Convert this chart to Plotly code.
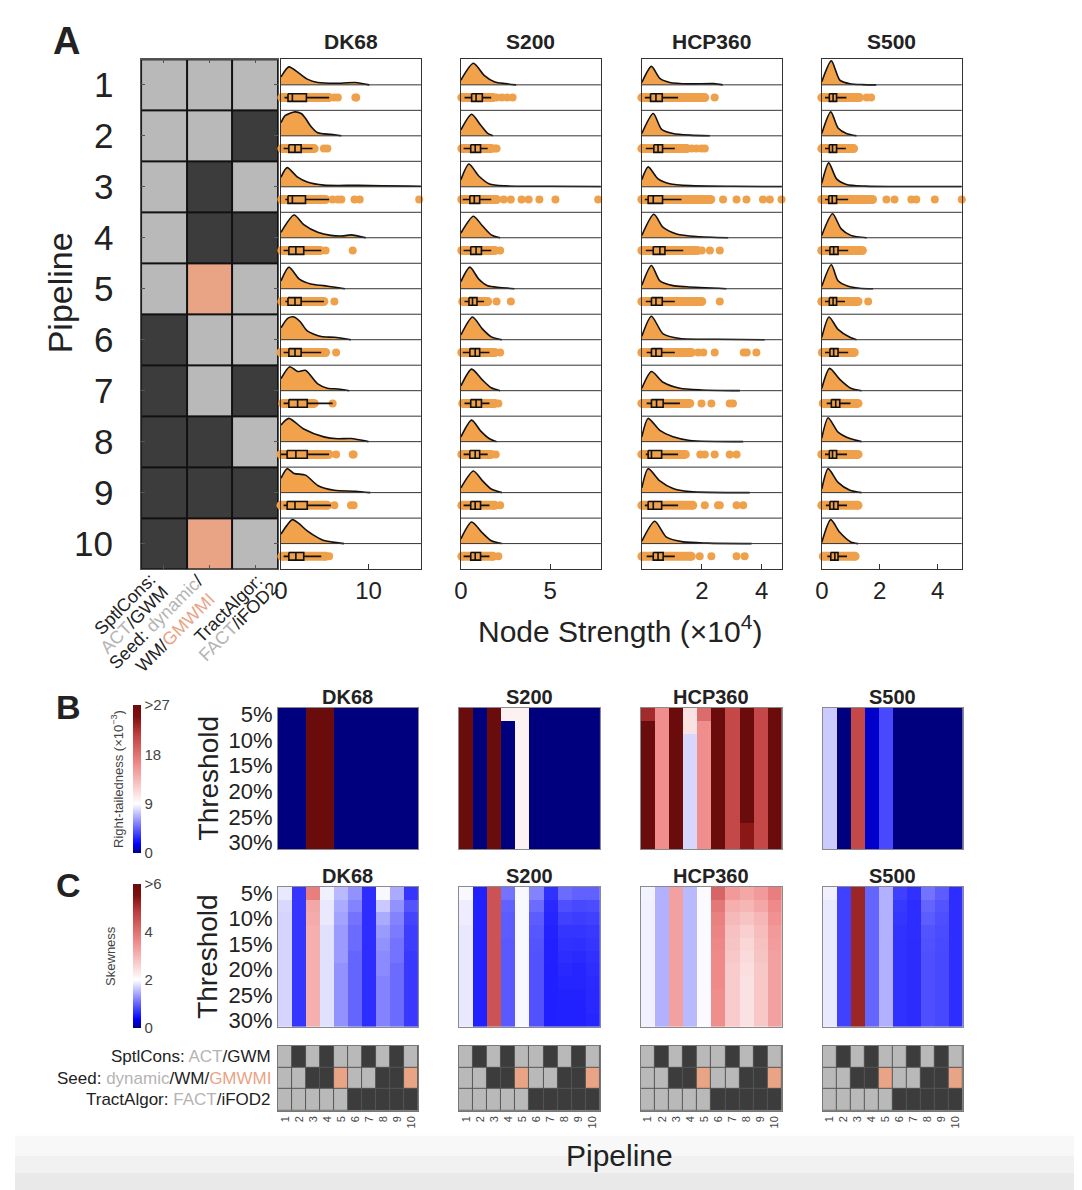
import plotly.graph_objects as go
import numpy as np

W, H = 1082, 1190
FONT = "Liberation Sans, Arial, sans-serif"
ORANGE = "#F2A24A"
DOT = "#EFA04A"
LIGHT = "#B9B9B9"
DARK = "#3C3C3C"
SALMON = "#E9A385"

ATLASES = ["DK68", "S200", "HCP360", "S500"]
PIPELINES = [1, 2, 3, 4, 5, 6, 7, 8, 9, 10]
THRESHOLDS = ["5%", "7.5%", "10%", "12.5%", "15%", "17.5%", "20%", "22.5%", "25%", "27.5%", "30%"]
THRESH_TICKS = ["5%", "10%", "15%", "20%", "25%", "30%"]

# pipeline configuration (0 = grey option, 1 = dark option, 2 = orange option)
SPTLCONS = [0, 0, 0, 0, 0, 1, 1, 1, 1, 1]
SEED = [0, 0, 1, 1, 2, 0, 0, 1, 1, 2]
TRACTALGOR = [0, 1, 0, 1, 0, 0, 1, 0, 1, 0]

# ---------------- Panel A : node strength (x10^4) ----------------
XMAX_A = [16, 7.85, 4.67, 4.83]
XTICKS_A = [[0, 10], [0, 5], [2, 4], [0, 2, 4]]

# density curves: [x, relative height]
DK68_DENS = [
    [[0, 0.33], [0.9, 0.75], [2.0, 0.5], [3.0, 0.24], [4.2, 0.1], [6.9, 0.07], [8.5, 0.1], [10.1, 0]],
    [[0, 0.55], [0.5, 0.85], [1.6, 1.0], [2.3, 0.93], [2.8, 0.73], [3.4, 0.4], [4.2, 0.13], [5.7, 0.06], [6.9, 0]],
    [[0, 0.4], [0.7, 0.8], [1.9, 0.4], [3.0, 0.2], [4.9, 0.07], [8.8, 0.06], [14.5, 0.03], [16, 0.02]],
    [[0, 0.23], [1.5, 0.95], [2.6, 0.55], [4.2, 0.23], [5.7, 0.1], [7.2, 0.08], [8.0, 0.12], [9.7, 0]],
    [[0, 0.33], [0.9, 0.9], [2.1, 0.4], [3.4, 0.2], [4.9, 0.13], [6.2, 0.06], [7.3, 0]],
    [[0, 0.5], [0.8, 0.9], [1.5, 0.95], [2.2, 0.75], [3.0, 0.37], [4.6, 0.13], [6.1, 0.1], [8.0, 0]],
    [[0, 0.5], [1.0, 1.0], [1.9, 0.8], [2.8, 0.85], [4.2, 0.28], [5.3, 0.1], [6.5, 0.07], [7.8, 0]],
    [[0, 0.7], [0.9, 0.97], [2.6, 0.53], [4.9, 0.2], [6.5, 0.12], [8.0, 0.13], [10.0, 0]],
    [[0, 0.6], [0.7, 1.0], [1.5, 0.8], [2.8, 0.73], [4.2, 0.3], [6.1, 0.1], [8.5, 0.06], [10.2, 0]],
    [[0, 0.4], [1.3, 1.0], [2.0, 0.85], [3.0, 0.53], [4.2, 0.25], [4.9, 0.13], [7.2, 0]],
]
# box: [lower whisker, q1, median, q3, upper whisker]
DK68_BOX = [
    [0.4, 0.8, 1.3, 2.9, 5.5], [0.3, 0.9, 1.6, 2.3, 3.6], [0.5, 0.8, 1.3, 2.8, 5.5],
    [0.3, 0.9, 1.7, 2.6, 4.6], [0.5, 0.8, 1.6, 2.3, 4.9], [0.3, 0.9, 1.6, 2.3, 4.6],
    [0.3, 0.9, 1.9, 3.0, 5.9], [0.0, 0.7, 1.7, 3.0, 5.5], [0.3, 0.7, 1.6, 3.0, 5.7],
    [0.3, 0.9, 1.7, 2.6, 4.6],
]
DK68_CORE = [[0.1, 5.5], [0.1, 3.8], [0.1, 5.1], [0.1, 4.5], [0.1, 4.9],
             [0.0, 5.1], [0.2, 3.8], [0.0, 5.5], [0.0, 5.3], [0.1, 5.1]]
DK68_OUT = [[6.1, 6.5, 8.5, 8.6], [4.9, 5.3], [5.9, 6.5, 6.9, 8.4, 9.0, 15.8], [5.1, 8.2], [6.1],
            [6.3], [5.9], [6.3, 8.2, 8.3], [6.1, 8.0, 8.3], [5.5]]

S200_DENS = [
    [[0, 0.2], [0.7, 0.9], [1.3, 0.4], [1.9, 0.12], [2.5, 0.05], [3.1, 0]],
    [[0, 0.25], [0.6, 0.9], [1.1, 0.45], [1.5, 0.1], [1.8, 0]],
    [[0, 0.3], [0.45, 0.95], [1.0, 0.45], [1.6, 0.12], [2.5, 0.04], [5.0, 0.02], [7.85, 0.01]],
    [[0, 0.2], [0.7, 0.9], [1.2, 0.5], [1.7, 0.12], [2.2, 0]],
    [[0, 0.3], [0.5, 0.9], [1.0, 0.4], [1.5, 0.12], [2.2, 0.05], [3.0, 0]],
    [[0, 0.2], [0.65, 0.95], [1.2, 0.45], [1.7, 0.12], [2.3, 0]],
    [[0, 0.2], [0.6, 0.9], [1.2, 0.45], [1.7, 0.12], [2.2, 0]],
    [[0, 0.2], [0.6, 0.9], [1.1, 0.45], [1.6, 0.12], [2.0, 0]],
    [[0, 0.2], [0.7, 0.9], [1.2, 0.5], [1.7, 0.15], [2.3, 0]],
    [[0, 0.2], [0.6, 0.9], [1.2, 0.45], [1.7, 0.12], [2.3, 0]],
]
S200_BOX = [
    [0.2, 0.6, 0.85, 1.2, 1.7], [0.15, 0.55, 0.8, 1.1, 1.5], [0.1, 0.5, 0.75, 1.05, 1.7],
    [0.15, 0.55, 0.85, 1.15, 1.7], [0.2, 0.45, 0.65, 0.9, 1.3], [0.1, 0.5, 0.8, 1.05, 1.6],
    [0.2, 0.55, 0.85, 1.15, 1.6], [0.15, 0.5, 0.8, 1.05, 1.5], [0.15, 0.55, 0.8, 1.1, 1.6],
    [0.15, 0.55, 0.8, 1.1, 1.6],
]
S200_CORE = [[0.05, 1.8], [0.05, 1.7], [0.05, 2.0], [0.05, 1.9], [0.1, 1.5],
             [0.05, 1.9], [0.1, 1.9], [0.05, 1.7], [0.05, 1.9], [0.05, 1.8]]
S200_OUT = [[2.0, 2.3, 2.6, 2.9], [1.9, 2.0], [2.4, 2.8, 3.4, 3.8, 4.4, 5.3, 7.7], [2.2], [2.0, 2.8],
            [2.2], [2.1], [1.95], [2.2], [2.1]]

HCP360_DENS = [
    [[0, 0.1], [0.32, 0.77], [0.6, 0.27], [0.93, 0.1], [1.6, 0.04], [2.4, 0.05], [2.7, 0]],
    [[0, 0.1], [0.38, 0.93], [0.66, 0.27], [1.04, 0.1], [1.6, 0.03], [2.27, 0]],
    [[0, 0.3], [0.21, 0.83], [0.54, 0.33], [0.93, 0.13], [1.6, 0.05], [3.0, 0.02], [4.67, 0.01]],
    [[0, 0.1], [0.4, 0.98], [0.71, 0.43], [1.16, 0.16], [1.82, 0.05], [2.88, 0]],
    [[0, 0.15], [0.32, 0.97], [0.6, 0.33], [1.04, 0.13], [1.5, 0.08], [2.82, 0]],
    [[0, 0.15], [0.32, 0.98], [0.71, 0.24], [1.27, 0.05], [2.5, 0.02], [4.1, 0]],
    [[0, 0.1], [0.32, 0.8], [0.71, 0.35], [1.27, 0.1], [2.0, 0.03], [3.27, 0]],
    [[0, 0.2], [0.21, 0.97], [0.6, 0.47], [1.04, 0.2], [1.6, 0.05], [3.38, 0]],
    [[0, 0.2], [0.21, 1.0], [0.6, 0.49], [1.04, 0.17], [1.6, 0.04], [3.6, 0]],
    [[0, 0.1], [0.43, 0.93], [0.82, 0.27], [1.38, 0.07], [2.2, 0.02], [3.66, 0]],
]
HCP360_BOX = [
    [0.1, 0.29, 0.47, 0.68, 1.21], [0.13, 0.4, 0.54, 0.69, 1.1], [0.1, 0.21, 0.38, 0.69, 1.32],
    [0.13, 0.38, 0.6, 0.77, 1.38], [0.13, 0.32, 0.47, 0.68, 1.1], [0.16, 0.32, 0.47, 0.66, 1.1],
    [0.16, 0.32, 0.49, 0.71, 1.27], [0.13, 0.21, 0.32, 0.66, 1.21], [0.1, 0.21, 0.38, 0.66, 1.21],
    [0.16, 0.38, 0.54, 0.71, 1.1],
]
HCP360_CORE = [[0, 2.1], [0, 1.5], [0, 2.3], [0, 1.85], [0, 2.0],
               [0, 1.65], [0, 1.6], [0, 1.45], [0, 1.7], [0, 1.65]]
HCP360_OUT = [[2.43], [1.66, 1.82, 1.99, 2.1], [2.71, 3.16, 3.49, 4.04, 4.27, 4.66], [2.0, 2.27, 2.6], [2.6],
              [1.88, 2.05, 2.43, 3.4, 3.5, 3.82], [1.99, 2.32, 2.93, 3.04], [1.95, 2.1, 2.43, 2.93, 3.16],
              [2.1, 2.54, 2.6, 3.16, 3.38], [1.93, 2.32, 3.16, 3.43]]

S500_DENS = [
    [[0, 0.13], [0.33, 1.0], [0.62, 0.2], [0.97, 0.05], [1.4, 0.01], [1.88, 0]],
    [[0, 0.1], [0.31, 1.0], [0.56, 0.33], [0.85, 0.1], [1.2, 0]],
    [[0, 0.15], [0.24, 1.0], [0.51, 0.33], [0.85, 0.1], [1.5, 0.03], [3.0, 0.01], [4.83, 0.01]],
    [[0, 0.1], [0.37, 1.0], [0.67, 0.37], [1.0, 0.1], [1.55, 0]],
    [[0, 0.1], [0.33, 1.0], [0.56, 0.33], [0.91, 0.1], [1.3, 0.02], [1.77, 0]],
    [[0, 0.1], [0.25, 0.95], [0.56, 0.43], [0.97, 0.1], [1.2, 0]],
    [[0, 0.1], [0.27, 0.93], [0.62, 0.47], [1.0, 0.1], [1.37, 0]],
    [[0, 0.15], [0.22, 1.0], [0.56, 0.4], [0.97, 0.13], [1.37, 0]],
    [[0, 0.15], [0.22, 1.0], [0.56, 0.43], [0.97, 0.1], [1.37, 0]],
    [[0, 0.05], [0.31, 1.0], [0.62, 0.47], [1.0, 0.07], [1.25, 0]],
]
S500_BOX = [
    [0.11, 0.26, 0.39, 0.51, 0.85], [0.11, 0.26, 0.37, 0.51, 0.83], [0.11, 0.24, 0.36, 0.51, 0.91],
    [0.11, 0.28, 0.41, 0.56, 0.91], [0.11, 0.26, 0.39, 0.51, 0.8], [0.11, 0.28, 0.41, 0.56, 0.91],
    [0.17, 0.33, 0.48, 0.62, 0.99], [0.11, 0.26, 0.37, 0.51, 0.87], [0.14, 0.28, 0.41, 0.56, 0.87],
    [0.19, 0.31, 0.45, 0.56, 0.87],
]
S500_CORE = [[0, 1.3], [0, 1.1], [0, 1.75], [0, 1.4], [0, 1.25],
             [0.02, 1.12], [0.05, 1.25], [0, 1.25], [0, 1.25], [0.05, 1.15]]
S500_OUT = [[1.55, 1.7], [], [2.23, 2.51, 3.09, 3.26, 3.9, 4.83], [], [1.6], [], [], [], [], []]

# ---------------- Panel B : right-tailedness (x10^-3), one list per pipeline over thresholds ----------------
B_DK68 = [
    [0, 0, 0, 0, 0, 0, 0, 0, 0, 0, 0],
    [0, 0, 0, 0, 0, 0, 0, 0, 0, 0, 0],
    [30, 30, 30, 30, 30, 30, 30, 30, 30, 30, 30],
    [30, 30, 30, 30, 30, 30, 30, 30, 30, 30, 30],
    [0, 0, 0, 0, 0, 0, 0, 0, 0, 0, 0],
    [0, 0, 0, 0, 0, 0, 0, 0, 0, 0, 0],
    [0, 0, 0, 0, 0, 0, 0, 0, 0, 0, 0],
    [0, 0, 0, 0, 0, 0, 0, 0, 0, 0, 0],
    [0, 0, 0, 0, 0, 0, 0, 0, 0, 0, 0],
    [0, 0, 0, 0, 0, 0, 0, 0, 0, 0, 0],
]
B_S200 = [
    [30, 30, 30, 30, 30, 30, 30, 30, 30, 30, 30],
    [0, 0, 0, 0, 0, 0, 0, 0, 0, 0, 0],
    [30, 30, 30, 30, 30, 30, 30, 30, 30, 30, 30],
    [9.8, 0, 0, 0, 0, 0, 0, 0, 0, 0, 0],
    [9.8, 9.8, 9.8, 9.8, 9.8, 9.8, 9.8, 9.8, 9.8, 9.8, 9.8],
    [0, 0, 0, 0, 0, 0, 0, 0, 0, 0, 0],
    [0, 0, 0, 0, 0, 0, 0, 0, 0, 0, 0],
    [0, 0, 0, 0, 0, 0, 0, 0, 0, 0, 0],
    [0, 0, 0, 0, 0, 0, 0, 0, 0, 0, 0],
    [0, 0, 0, 0, 0, 0, 0, 0, 0, 0, 0],
]
B_HCP360 = [
    [23, 30, 30, 30, 30, 30, 30, 30, 30, 30, 30],
    [16, 16, 16, 16, 16, 16, 16, 16, 16, 16, 16],
    [30, 30, 30, 30, 30, 30, 30, 30, 30, 30, 30],
    [10.8, 10.8, 7.8, 7.8, 7.8, 7.8, 7.8, 7.8, 7.8, 7.8, 7.8],
    [18.4, 16, 16, 16, 16, 16, 16, 16, 16, 16, 16],
    [30, 30, 30, 30, 30, 30, 30, 30, 30, 30, 30],
    [21, 21, 21, 21, 21, 21, 21, 21, 21, 21, 21],
    [30, 30, 30, 30, 30, 30, 30, 30, 30, 24.3, 24.3],
    [21, 21, 21, 21, 21, 21, 21, 21, 21, 21, 21],
    [30, 30, 30, 30, 30, 30, 30, 30, 30, 30, 30],
]
B_S500 = [
    [7.5, 7.5, 7.5, 7.5, 7.5, 7.5, 7.5, 7.5, 7.5, 7.5, 7.5],
    [0, 0, 0, 0, 0, 0, 0, 0, 0, 0, 0],
    [21, 21, 21, 21, 21, 21, 21, 21, 21, 21, 21],
    [0.95, 0.95, 0.95, 0.95, 0.95, 0.95, 0.95, 0.95, 0.95, 0.95, 0.95],
    [3.7, 3.7, 3.7, 3.7, 3.7, 3.7, 3.7, 3.7, 3.7, 3.7, 3.7],
    [0, 0, 0, 0, 0, 0, 0, 0, 0, 0, 0],
    [0, 0, 0, 0, 0, 0, 0, 0, 0, 0, 0],
    [0, 0, 0, 0, 0, 0, 0, 0, 0, 0, 0],
    [0, 0, 0, 0, 0, 0, 0, 0, 0, 0, 0],
    [0, 0, 0, 0, 0, 0, 0, 0, 0, 0, 0],
]

# ---------------- Panel C : skewness ----------------
C_DK68 = [
    [1.85, 1.75, 1.72, 1.72, 1.72, 1.72, 1.72, 1.72, 1.72, 1.72, 1.72],
    [0.7, 0.7, 0.7, 0.7, 0.7, 0.7, 0.7, 0.7, 0.7, 0.7, 0.7],
    [3.8, 3.2, 3.15, 3.1, 3.1, 3.1, 3.1, 3.1, 3.1, 3.1, 3.1],
    [1.9, 1.85, 1.85, 1.8, 1.8, 1.8, 1.8, 1.8, 1.8, 1.8, 1.8],
    [1.55, 1.45, 1.4, 1.35, 1.35, 1.35, 1.3, 1.3, 1.3, 1.3, 1.3],
    [1.3, 1.2, 1.1, 1.05, 1.05, 1.0, 1.0, 1.0, 1.0, 1.0, 1.0],
    [0.65, 0.65, 0.65, 0.65, 0.65, 0.65, 0.65, 0.65, 0.65, 0.65, 0.65],
    [1.95, 1.65, 1.45, 1.35, 1.3, 1.25, 1.25, 1.2, 1.2, 1.2, 1.2],
    [1.45, 1.3, 1.2, 1.15, 1.1, 1.1, 1.05, 1.05, 1.05, 1.05, 1.05],
    [0.7, 0.9, 0.8, 0.75, 0.75, 0.72, 0.72, 0.72, 0.72, 0.72, 0.72],
]
C_S200 = [
    [1.95, 1.88, 1.88, 1.85, 1.85, 1.85, 1.85, 1.85, 1.85, 1.85, 1.85],
    [0.57, 0.57, 0.57, 0.57, 0.57, 0.57, 0.57, 0.57, 0.57, 0.57, 0.57],
    [4.5, 4.5, 4.5, 4.5, 4.5, 4.5, 4.5, 4.5, 4.5, 4.5, 4.5],
    [1.1, 0.98, 0.95, 0.95, 0.93, 0.93, 0.93, 0.93, 0.93, 0.93, 0.93],
    [1.95, 1.95, 1.95, 1.95, 1.95, 1.95, 1.95, 1.95, 1.95, 1.95, 1.95],
    [1.2, 1.05, 0.95, 0.92, 0.9, 0.88, 0.88, 0.88, 0.88, 0.88, 0.88],
    [0.67, 0.62, 0.6, 0.58, 0.57, 0.57, 0.56, 0.56, 0.56, 0.56, 0.56],
    [1.05, 0.87, 0.77, 0.7, 0.67, 0.65, 0.62, 0.6, 0.58, 0.57, 0.57],
    [0.98, 0.82, 0.75, 0.7, 0.66, 0.63, 0.6, 0.6, 0.58, 0.57, 0.57],
    [0.98, 0.85, 0.77, 0.72, 0.7, 0.67, 0.65, 0.63, 0.62, 0.62, 0.6],
]
C_HCP360 = [
    [1.92, 1.9, 1.9, 1.9, 1.9, 1.9, 1.9, 1.9, 1.9, 1.9, 1.9],
    [1.5, 1.5, 1.5, 1.5, 1.5, 1.5, 1.5, 1.5, 1.5, 1.5, 1.5],
    [3.3, 3.3, 3.3, 3.3, 3.3, 3.3, 3.3, 3.3, 3.3, 3.3, 3.3],
    [1.55, 1.55, 1.55, 1.55, 1.55, 1.55, 1.55, 1.55, 1.55, 1.55, 1.55],
    [1.97, 1.97, 1.97, 1.97, 1.97, 1.97, 1.97, 1.97, 1.97, 1.97, 1.97],
    [4.2, 3.9, 3.75, 3.7, 3.65, 3.6, 3.6, 3.6, 3.55, 3.55, 3.55],
    [3.4, 3.1, 2.95, 2.85, 2.8, 2.75, 2.7, 2.7, 2.7, 2.7, 2.7],
    [3.2, 3.0, 2.8, 2.65, 2.55, 2.5, 2.45, 2.4, 2.4, 2.4, 2.4],
    [3.4, 3.2, 3.0, 2.9, 2.85, 2.8, 2.75, 2.75, 2.75, 2.75, 2.75],
    [3.8, 3.6, 3.5, 3.4, 3.35, 3.3, 3.3, 3.3, 3.3, 3.3, 3.3],
]
C_S500 = [
    [1.9, 1.85, 1.85, 1.85, 1.85, 1.85, 1.85, 1.85, 1.85, 1.85, 1.85],
    [0.77, 0.77, 0.77, 0.77, 0.77, 0.77, 0.77, 0.77, 0.77, 0.77, 0.77],
    [5.2, 5.2, 5.2, 5.2, 5.2, 5.2, 5.2, 5.2, 5.2, 5.2, 5.2],
    [1.0, 1.0, 1.0, 1.0, 1.0, 1.0, 1.0, 1.0, 1.0, 1.0, 1.0],
    [1.5, 1.5, 1.5, 1.5, 1.5, 1.5, 1.5, 1.5, 1.5, 1.5, 1.5],
    [0.77, 0.72, 0.7, 0.68, 0.67, 0.67, 0.67, 0.67, 0.67, 0.67, 0.67],
    [0.67, 0.65, 0.65, 0.65, 0.64, 0.64, 0.64, 0.64, 0.64, 0.64, 0.64],
    [1.1, 1.0, 0.95, 0.9, 0.88, 0.87, 0.87, 0.87, 0.87, 0.87, 0.87],
    [0.95, 0.9, 0.87, 0.85, 0.83, 0.82, 0.82, 0.82, 0.82, 0.82, 0.82],
    [0.65, 0.65, 0.65, 0.65, 0.65, 0.65, 0.65, 0.65, 0.65, 0.65, 0.65],
]

A_DATA = [(DK68_DENS, DK68_BOX, DK68_CORE, DK68_OUT), (S200_DENS, S200_BOX, S200_CORE, S200_OUT),
          (HCP360_DENS, HCP360_BOX, HCP360_CORE, HCP360_OUT), (S500_DENS, S500_BOX, S500_CORE, S500_OUT)]
B_DATA = [B_DK68, B_S200, B_HCP360, B_S500]
C_DATA = [C_DK68, C_S200, C_HCP360, C_S500]

# ---------------- layout helpers ----------------
# the page is displayed slightly offset/scaled; map target screen pixels to figure pixels
OX, OY, SX, SY = 14.9, 12.6, 0.9939, 0.9905

def px(x):
    return ((x - OX) / SX) / W

def py(y):
    return 1 - ((y - OY) / SY) / H

def dx(a, b):
    return [max(0, px(a)), min(1, px(b))]

def dy(top, bottom):
    return [max(0, py(bottom)), min(1, py(top))]

fig = go.Figure()
layout = dict(width=W, height=H, margin=dict(l=0, r=0, t=0, b=0), paper_bgcolor="white",
              plot_bgcolor="white", showlegend=False, font=dict(family=FONT, color="#222"))
shapes, annotations = [], []
counter = [0]

def new_axes(xdom, ydom, xopts, yopts):
    counter[0] += 1
    n = counter[0]
    s = "" if n == 1 else str(n)
    base = dict(showgrid=False, zeroline=False)
    layout["xaxis" + s] = dict(domain=xdom, anchor="y" + s, **base, **xopts)
    layout["yaxis" + s] = dict(domain=ydom, anchor="x" + s, **base, **yopts)
    return "x" + s, "y" + s

def ann(text, x, y, size, color="#222", angle=0, xanchor="center", yanchor="middle", xref="paper",
        yref="paper", align="center"):
    annotations.append(dict(text=text, x=x, y=y, xref=xref, yref=yref, showarrow=False,
                            font=dict(size=size, color=color, family=FONT), textangle=angle,
                            xanchor=xanchor, yanchor=yanchor, align=align))

GRID_SCALE = [[0, LIGHT], [0.33, LIGHT], [0.34, DARK], [0.66, DARK], [0.67, SALMON], [1, SALMON]]
DIVERGING = [[0, "#00007f"], [0.06, "#0000ff"], [0.333, "#ffffff"], [0.6, "#f08a8a"],
             [0.8, "#c04040"], [0.92, "#800f0f"], [1, "#6b0c0c"]]

# ---------------- Panel A : configuration grid ----------------
xa, ya = new_axes(dx(141, 278), dy(58, 568),
                  dict(range=[-0.5, 2.5], showticklabels=False, ticks="inside", ticklen=4, tickvals=[0, 1, 2],
                       mirror="ticks", showline=True, linecolor="#555", tickcolor="#555"),
                  dict(range=[9.5, -0.5], showticklabels=False, ticks="inside", ticklen=4,
                       tickvals=list(range(10)), mirror="ticks", showline=True, linecolor="#555", tickcolor="#555"))
zgrid = [[SPTLCONS[i], SEED[i], TRACTALGOR[i]] for i in range(10)]
fig.add_trace(go.Heatmap(z=zgrid, x=[0, 1, 2], y=list(range(10)), colorscale=GRID_SCALE, zmin=0, zmax=2,
                         showscale=False, xgap=2, ygap=2, xaxis=xa, yaxis=ya, hoverinfo="skip"))
shapes.append(dict(type="rect", xref=xa + " domain", yref=ya + " domain", x0=0, x1=1, y0=0, y1=1,
                   fillcolor="#111", line_width=0, layer="below"))
for i, p in enumerate(PIPELINES):
    ann(str(p), px(115), i, 35, xanchor="right", yref=ya)
ann("Pipeline", px(60), py(292), 34, angle=-90)
ann("<b>A</b>", px(66), py(40), 38)

GREY_T = "#b4b4b4"
# each diagonal label line is placed by its centre
ROT_LINES = [
    ("SptlCons:", 125, 603),
    ("<span style='color:%s'>ACT</span>/GWM" % GREY_T, 134, 619),
    ("Seed: <span style='color:%s'>dynamic</span>/" % GREY_T, 156, 621),
    ("WM/<span style='color:%s'>GMWMI</span>" % SALMON, 175, 632),
    ("TractAlgor:", 228, 608),
    ("<span style='color:%s'>FACT</span>/iFOD2" % GREY_T, 238, 621),
]
for txt, cx, cy in ROT_LINES:
    ann(txt, px(cx), py(cy), 18, angle=-45)

# ---------------- Panel A : raincloud panels ----------------
A_XDOM = [(281, 421), (461, 601), (642, 782), (822, 962)]
HALF = 0.47
BOXH = 0.075
for k, name in enumerate(ATLASES):
    dens, box, core, out = A_DATA[k]
    xa, ya = new_axes(dx(*A_XDOM[k]), dy(58, 568),
                      dict(range=[0, XMAX_A[k]], tickvals=XTICKS_A[k], ticks="inside", ticklen=5,
                           tickcolor="#333", tickfont=dict(size=24, color="#222"), showline=True,
                           mirror=True, linecolor="#333", linewidth=1),
                      dict(range=[10, 0], showticklabels=False, showline=True, mirror=True,
                           linecolor="#333", linewidth=1))
    for i in range(10):
        base = i + 0.5
        xs = [pt[0] for pt in dens[i]]
        ys = [base - pt[1] * HALF for pt in dens[i]]
        fig.add_trace(go.Scatter(x=[xs[0], xs[-1]], y=[base, base], mode="lines", line=dict(width=0),
                                 xaxis=xa, yaxis=ya, hoverinfo="skip"))
        fig.add_trace(go.Scatter(x=xs, y=ys, mode="lines", fill="tonexty", fillcolor=ORANGE,
                                 line=dict(color="#111", width=1.6, shape="spline", smoothing=0.7),
                                 xaxis=xa, yaxis=ya, hoverinfo="skip"))
    bx, by = [], []
    for i in range(10):
        c = i + 0.75
        bx += [core[i][0], core[i][1], None]
        by += [c, c, None]
    fig.add_trace(go.Scatter(x=bx, y=by, mode="lines+markers", line=dict(color=DOT, width=9),
                             marker=dict(color=DOT, size=9), cliponaxis=False,
                             xaxis=xa, yaxis=ya, hoverinfo="skip"))
    ox, oy = [], []
    for i in range(10):
        for v in out[i]:
            ox.append(v)
            oy.append(i + 0.75)
    fig.add_trace(go.Scatter(x=ox, y=oy, mode="markers", marker=dict(color=DOT, size=8), cliponaxis=False,
                             xaxis=xa, yaxis=ya, hoverinfo="skip"))
    kx, ky = [], []
    for i in range(10):
        lo, q1, med, q3, hi = box[i]
        c = i + 0.75
        kx += [q1, q3, q3, q1, q1, None, lo, q1, None, q3, hi, None, med, med, None]
        ky += [c - BOXH, c - BOXH, c + BOXH, c + BOXH, c - BOXH, None, c, c, None, c, c, None,
               c - BOXH, c + BOXH, None]
    fig.add_trace(go.Scatter(x=kx, y=ky, mode="lines", line=dict(color="#111", width=1.6),
                             xaxis=xa, yaxis=ya, hoverinfo="skip"))
    for j in range(1, 20):
        shapes.append(dict(type="line", xref=xa + " domain", yref=ya, x0=0, x1=1, y0=j * 0.5, y1=j * 0.5,
                           line=dict(color="#333", width=1)))
    ann("<b>%s</b>" % name, px(sum(A_XDOM[k]) / 2), py(40), 21)

ann("Node Strength (×10<sup>4</sup>)", px(620), py(628), 30)

# ---------------- Panels B and C : heatmaps ----------------
HM_XDOM = [(278, 418), (459, 600), (641, 782), (823, 963)]
for panel, (data, top, bottom, cax, title_y) in enumerate([(B_DATA, 707, 848, "coloraxis", 696),
                                                            (C_DATA, 886, 1026, "coloraxis2", 875)]):
    for k, name in enumerate(ATLASES):
        yopts = dict(range=[10.5, -0.5], showline=True, mirror=True, linecolor="#8a8a8a", linewidth=1)
        if k == 0:
            yopts.update(tickvals=[0, 2, 4, 6, 8, 10], ticktext=THRESH_TICKS, tickfont=dict(size=22, color="#222"),
                         ticks="")
        else:
            yopts.update(showticklabels=False)
        xa, ya = new_axes(dx(*HM_XDOM[k]), dy(top, bottom),
                          dict(range=[0.5, 10.5], showticklabels=False, showline=True, mirror=True,
                               linecolor="#8a8a8a", linewidth=1), yopts)
        z = np.array(data[k]).T.tolist()
        fig.add_trace(go.Heatmap(z=z, x=PIPELINES, y=list(range(len(THRESHOLDS))), coloraxis=cax,
                                 xaxis=xa, yaxis=ya, hoverinfo="skip"))
        ann("<b>%s</b>" % name, px(sum(HM_XDOM[k]) / 2), py(title_y), 20)
    ann("Threshold", px(208), py((top + bottom) / 2), 28, angle=-90)

layout["coloraxis"] = dict(cmin=0, cmax=27, colorscale=DIVERGING,
                           colorbar=dict(x=px(133), xanchor="left", y=py(778), yanchor="middle",
                                         len=150 / H, lenmode="fraction", thickness=8, thicknessmode="pixels",
                                         tickvals=[0, 9, 18, 27], ticktext=["0", "9", "18", ">27"],
                                         tickfont=dict(size=15, color="#444"), ticks="", outlinewidth=0,
                                         xpad=0, ypad=0))
layout["coloraxis2"] = dict(cmin=0, cmax=6, colorscale=DIVERGING,
                            colorbar=dict(x=px(133), xanchor="left", y=py(955), yanchor="middle",
                                          len=145 / H, lenmode="fraction", thickness=8, thicknessmode="pixels",
                                          tickvals=[0, 2, 4, 6], ticktext=["0", "2", "4", ">6"],
                                          tickfont=dict(size=15, color="#444"), ticks="", outlinewidth=0,
                                          xpad=0, ypad=0))
ann("Right-tailedness (×10<sup>−3</sup>)", px(117), py(778), 13, color="#444", angle=-90)
ann("Skewness", px(111), py(955), 13, color="#444", angle=-90)
ann("<b>B</b>", px(68), py(706), 34)
ann("<b>C</b>", px(68), py(884), 34)

# ---------------- bottom configuration grids ----------------
C_GRID_ROWS = [TRACTALGOR, SEED, SPTLCONS]
C_GRID_LABELS = ["SptlCons: <span style='color:%s'>ACT</span>/GWM" % GREY_T,
                 "Seed: <span style='color:%s'>dynamic</span>/WM/<span style='color:%s'>GMWMI</span>" % (GREY_T, SALMON),
                 "TractAlgor: <span style='color:%s'>FACT</span>/iFOD2" % GREY_T]
for k, name in enumerate(ATLASES):
    xa, ya = new_axes(dx(*HM_XDOM[k]), dy(1045, 1110),
                      dict(range=[0.5, 10.5], tickvals=PIPELINES, ticktext=[str(p) for p in PIPELINES],
                           tickangle=-90, tickfont=dict(size=11, color="#444"), ticks="", showline=True,
                           mirror=True, linecolor="#777"),
                      dict(range=[2.5, -0.5], showticklabels=False, showline=True, mirror=True, linecolor="#777"))
    fig.add_trace(go.Heatmap(z=C_GRID_ROWS, x=PIPELINES, y=[0, 1, 2], colorscale=GRID_SCALE, zmin=0, zmax=2,
                             showscale=False, xgap=1, ygap=1, xaxis=xa, yaxis=ya, hoverinfo="skip"))
    shapes.append(dict(type="rect", xref=xa + " domain", yref=ya + " domain", x0=0, x1=1, y0=0, y1=1,
                       fillcolor="#555", line_width=0, layer="below"))
    if k == 0:
        for r, lab in enumerate(C_GRID_LABELS):
            ann(lab, px(273), r, 17, xanchor="right", yref=ya)

ann("Pipeline", px(620), py(1155), 30)

# faint grey band at the very bottom of the page
for y0, y1, col in [(1135, 1155, "#f8f8f8"), (1155, 1172, "#f1f1f1"), (1172, 1200, "#e9e9e9")]:
    shapes.append(dict(type="rect", xref="paper", yref="paper", x0=0, x1=1, y0=max(0, py(y1)), y1=py(y0),
                       fillcolor=col, line_width=0, layer="below"))

layout["shapes"] = shapes
layout["annotations"] = annotations
fig.update_layout(**layout)
fig.write_html("out.html")
